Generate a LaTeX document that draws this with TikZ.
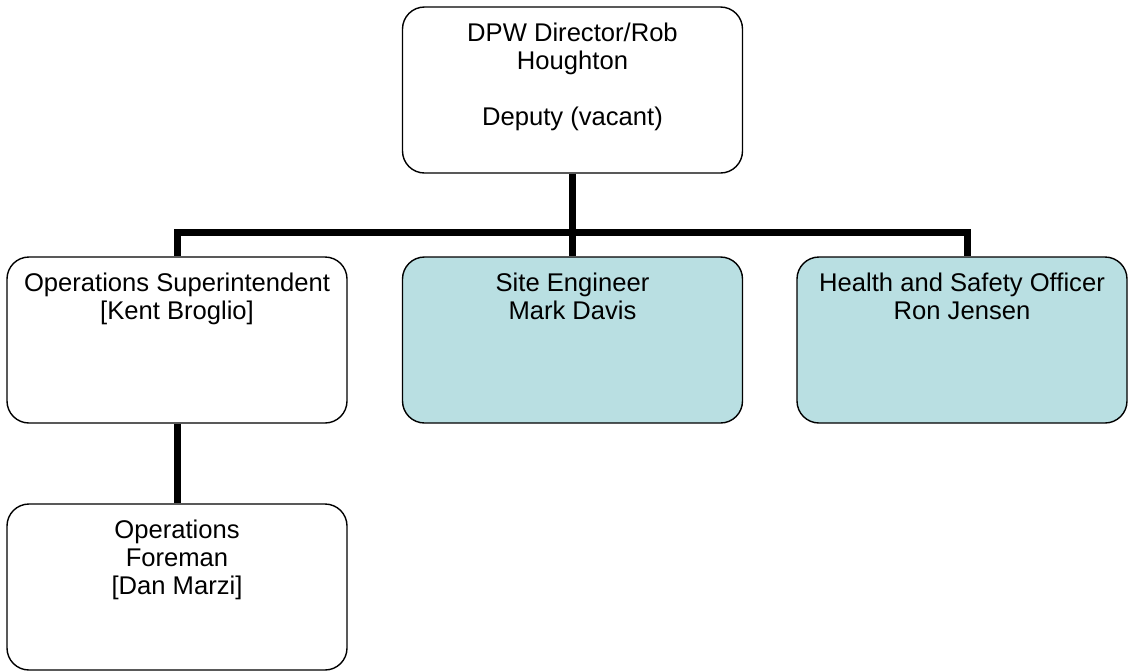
\documentclass[tikz,border=0pt]{standalone}
\usepackage{fontspec}
\setmainfont{Liberation Sans}
\usepackage{tikz}
\usetikzlibrary{positioning}
\definecolor{paleteal}{RGB}{185,223,226}
% box text: top aligned, centred lines
\newcommand{\boxtext}[2][165pt]{\parbox[c][83pt][t]{#1}{\centering\rule{0pt}{17pt}#2}}

\begin{document}
\begin{tikzpicture}[x=0.5pt,y=-0.5pt,
		box/.style={draw, line width=0.7pt, rounded corners=11pt, inner sep=0pt,
			minimum width=170pt, font=\fontsize{12.8pt}{14pt}\selectfont},
		filled/.style={box, fill=paleteal},
		conn/.style={line width=3.5pt}]
	\useasboundingbox (0,0) rectangle (1128,670);
	% top of the chart
	\node[box] (dir) at (572.5,90) {\boxtext{DPW Director/Rob\\Houghton\\\mbox{}\\Deputy (vacant)}};
	% second row
	\node[box] (ops) at (177,340) {\boxtext{Operations Superintendent\\{}[Kent Broglio]}};
	\node[filled] (site) at (572.5,340) {\boxtext{Site Engineer\\Mark Davis}};
	\node[filled, minimum width=165pt] (safety) at (962,340) {\boxtext[160pt]{Health and Safety Officer\\Ron Jensen}};
	% third row
	\node[box] (foreman) at (177,587) {\boxtext{Operations\\Foreman\\{}[Dan Marzi]}};
	
	\draw[conn] (dir.south) -- ++(0,59) coordinate (bus);
	\draw[conn] (bus) -| (ops.north);
	\draw[conn] (bus) -| ([xshift=2.5pt]safety.north);
	\draw[conn] (bus) -- (site.north);
	\draw[conn] (ops.south) -- (foreman.north);
\end{tikzpicture}
\end{document}
